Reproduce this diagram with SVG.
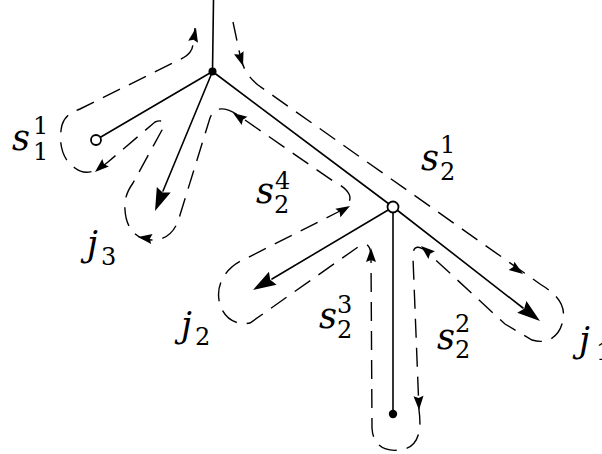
<svg xmlns="http://www.w3.org/2000/svg" xmlns:xlink="http://www.w3.org/1999/xlink" width="602" height="454" viewBox="0 0 602 454">
<style>
.edge{stroke:#000;stroke-width:1.6;fill:none;stroke-linecap:round}
.tour{stroke:#000;stroke-width:1.4;fill:none;stroke-dasharray:19 10}
.open{fill:#fff;stroke:#000;stroke-width:1.8}
.dot{fill:#000}
.lbl{font-family:'DejaVu Serif','Liberation Serif',serif;fill:#000}
.v{font-style:italic;font-size:35px}
.n{font-style:normal;font-size:24px}
</style>
<defs>
<path id="ah" d="M0,0 L-23,-7.5 L-20,0 L-23,7.5 Z" fill="#000"/>
<path id="ahs" d="M0,0 L-14,-5 L-12,0 L-14,5 Z" fill="#000"/>
</defs>
<rect width="602" height="454" fill="#fff"/>
<g id="connectors">
<line class="edge" x1="213.5" y1="0" x2="212.5" y2="71.5"/>
<line class="edge" x1="212.5" y1="71.5" x2="100" y2="137.5"/>
<line class="edge" x1="212.5" y1="71.5" x2="163" y2="191"/>
<use xlink:href="#ah" transform="translate(155,211) rotate(112.4)"/>
<line class="edge" x1="212.5" y1="71.5" x2="389" y2="204"/>
<line class="edge" x1="397" y1="210" x2="523" y2="308"/>
<use xlink:href="#ah" transform="translate(540,321) rotate(37.8)"/>
<line class="edge" x1="389" y1="209.5" x2="272" y2="279"/>
<use xlink:href="#ah" transform="translate(253,290) rotate(149.3)"/>
<line class="edge" x1="393" y1="212.5" x2="393" y2="414"/>
<path class="tour" d="M233,22 L240,55 C243,68 247,76 258,85 L540,284 C556,294 566,304 563,320 C560,336 548,345 532,340 L505,324 L427,252 C418,244 412,246 413,258 L419,410 C422,432 418,448 400,450 C385,452 373,446 372,428 L371,255 C370,244 366,242 358,247 L250,323 C236,326 222,318 219,300 C216,282 228,266 245,259 L338,212 C348,206 352,200 349,194 C346,188 340,185 333,181 L245,120 C232,110 216,102 210,118 L180,215 C176,230 168,240 152,240 C136,240 126,228 125,210 C124,198 128,190 133,183 L162,130 C166,122 162,119 155,122 L108,162 C96,172 85,176 75,168 C62,160 58,142 62,125 C65,116 70,113 80,109 L183,58 C192,53 193,48 193,42 L195,28"/>
<use xlink:href="#ahs" transform="translate(243,66) rotate(72.5)"/>
<use xlink:href="#ahs" transform="translate(523,274) rotate(35)"/>
<use xlink:href="#ahs" transform="translate(421,246) rotate(220.5)"/>
<use xlink:href="#ahs" transform="translate(419,410) rotate(88)"/>
<use xlink:href="#ahs" transform="translate(371,248) rotate(-90)"/>
<use xlink:href="#ahs" transform="translate(350,206) rotate(-30)"/>
<use xlink:href="#ahs" transform="translate(233,113) rotate(214.5)"/>
<use xlink:href="#ahs" transform="translate(138,237) rotate(188)"/>
<use xlink:href="#ahs" transform="translate(95,172) rotate(139)"/>
<use xlink:href="#ahs" transform="translate(196,28) rotate(-78)"/>
</g>
<g id="nodeA"><circle class="dot" cx="212.5" cy="71.5" r="4"/></g>
<g id="nodeS11"><circle class="open" cx="96" cy="140" r="5"/></g>
<g id="nodeB"><circle class="open" cx="393" cy="207" r="5.5"/></g>
<g id="nodeBottom"><circle class="dot" cx="393" cy="414" r="4.2"/></g>
<g id="labels">
<text class="lbl v" x="12" y="150">s</text><text class="lbl n" x="33" y="134">1</text><text class="lbl n" x="33" y="160">1</text>
<text class="lbl v" x="256" y="203">s</text><text class="lbl n" x="275" y="189">4</text><text class="lbl n" x="274" y="213">2</text>
<text class="lbl v" x="421" y="170">s</text><text class="lbl n" x="440" y="153">1</text><text class="lbl n" x="440" y="180">2</text>
<text class="lbl v" x="319" y="328">s</text><text class="lbl n" x="337" y="313">3</text><text class="lbl n" x="337" y="338">2</text>
<text class="lbl v" x="437" y="349">s</text><text class="lbl n" x="455" y="332">2</text><text class="lbl n" x="455" y="358">2</text>
<text class="lbl v" x="87" y="256">j</text><text class="lbl n" x="101" y="265">3</text>
<text class="lbl v" x="181" y="337">j</text><text class="lbl n" x="195" y="345">2</text>
<text class="lbl v" x="579" y="352">j</text><text class="lbl n" x="596" y="360">1</text>
</g>
</svg>
